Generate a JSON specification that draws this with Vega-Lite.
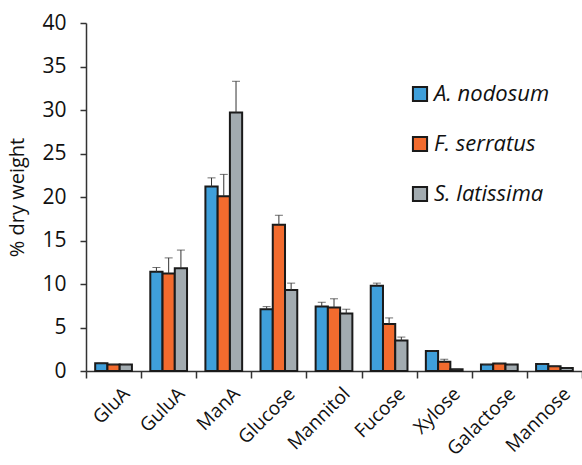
{
  "$schema": "https://vega.github.io/schema/vega-lite/v6.json",
  "width": 496,
  "height": 348,
  "autosize": {"type": "none"},
  "padding": {"left": 86, "top": 23, "right": 0, "bottom": 94},
  "background": "white",
  "config": {
    "view": {"stroke": null},
    "font": "Open Sans",
    "axis": {"labelFont": "Open Sans", "titleFont": "Open Sans", "domainColor": "#333", "tickColor": "#333", "labelColor": "#111", "titleColor": "#111", "grid": false, "domainWidth": 1.5, "tickWidth": 1.5}
  },
  "data": {"values": [
    {"sugar": "GluA", "species": "A. nodosum", "value": 0.9, "hi": 0.9},
    {"sugar": "GluA", "species": "F. serratus", "value": 0.75, "hi": 0.75},
    {"sugar": "GluA", "species": "S. latissima", "value": 0.75, "hi": 0.75},
    {"sugar": "GuluA", "species": "A. nodosum", "value": 11.4, "hi": 11.9},
    {"sugar": "GuluA", "species": "F. serratus", "value": 11.2, "hi": 13.0},
    {"sugar": "GuluA", "species": "S. latissima", "value": 11.8, "hi": 13.9},
    {"sugar": "ManA", "species": "A. nodosum", "value": 21.2, "hi": 22.2},
    {"sugar": "ManA", "species": "F. serratus", "value": 20.1, "hi": 22.6},
    {"sugar": "ManA", "species": "S. latissima", "value": 29.7, "hi": 33.3},
    {"sugar": "Glucose", "species": "A. nodosum", "value": 7.1, "hi": 7.4},
    {"sugar": "Glucose", "species": "F. serratus", "value": 16.8, "hi": 17.9},
    {"sugar": "Glucose", "species": "S. latissima", "value": 9.3, "hi": 10.1},
    {"sugar": "Mannitol", "species": "A. nodosum", "value": 7.4, "hi": 7.9},
    {"sugar": "Mannitol", "species": "F. serratus", "value": 7.3, "hi": 8.3},
    {"sugar": "Mannitol", "species": "S. latissima", "value": 6.6, "hi": 7.1},
    {"sugar": "Fucose", "species": "A. nodosum", "value": 9.8, "hi": 10.1},
    {"sugar": "Fucose", "species": "F. serratus", "value": 5.4, "hi": 6.1},
    {"sugar": "Fucose", "species": "S. latissima", "value": 3.5, "hi": 3.9},
    {"sugar": "Xylose", "species": "A. nodosum", "value": 2.3, "hi": 2.3},
    {"sugar": "Xylose", "species": "F. serratus", "value": 1.05, "hi": 1.35},
    {"sugar": "Xylose", "species": "S. latissima", "value": 0.2, "hi": 0.2},
    {"sugar": "Galactose", "species": "A. nodosum", "value": 0.75, "hi": 0.75},
    {"sugar": "Galactose", "species": "F. serratus", "value": 0.85, "hi": 0.85},
    {"sugar": "Galactose", "species": "S. latissima", "value": 0.75, "hi": 0.75},
    {"sugar": "Mannose", "species": "A. nodosum", "value": 0.8, "hi": 0.8},
    {"sugar": "Mannose", "species": "F. serratus", "value": 0.55, "hi": 0.55},
    {"sugar": "Mannose", "species": "S. latissima", "value": 0.35, "hi": 0.35}
  ]},
  "encoding": {
    "x": {
      "field": "sugar", "type": "nominal", "sort": null,
      "scale": {"paddingInner": 0, "paddingOuter": 0},
      "axis": {"title": null, "labelAngle": -45, "labelFontSize": 19, "tickBand": "extent", "tickSize": 7, "labelPadding": 6, "labelOffset": 6}
    },
    "xOffset": {"field": "species", "type": "nominal", "sort": null, "scale": {"paddingInner": 0, "paddingOuter": 0.75}}
  },
  "layer": [
    {
      "mark": {"type": "bar", "stroke": "#1a1a1a", "strokeWidth": 2},
      "encoding": {
        "y": {"field": "value", "type": "quantitative",
          "scale": {"domain": [0, 40], "nice": false},
          "axis": {"title": "% dry weight", "titleFontSize": 20, "titleFontWeight": "normal", "labelFontSize": 21, "values": [0,5,10,15,20,25,30,35,40], "tickSize": 6, "labelPadding": 14, "titlePadding": 14}},
        "color": {"field": "species", "type": "nominal", "sort": null,
          "scale": {"domain": ["A. nodosum", "F. serratus", "S. latissima"], "range": ["#3f9fda", "#f26b2e", "#a2abb0"]},
          "legend": {"title": null, "orient": "none", "legendX": 323, "legendY": 60, "labelFontSize": 22, "labelFontStyle": "italic", "labelFont": "Open Sans", "labelColor": "#111", "symbolType": "square", "symbolSize": 200, "symbolStrokeColor": "#1a1a1a", "symbolStrokeWidth": 2, "rowPadding": 26, "padding": 0, "labelOffset": 3}
        }
      }
    },
    {
      "mark": {"type": "rule", "color": "#333", "strokeWidth": 1},
      "encoding": {
        "y": {"field": "value", "type": "quantitative"},
        "y2": {"field": "hi"}
      }
    },
    {
      "mark": {"type": "tick", "color": "#333", "thickness": 1, "size": 8},
      "encoding": {
        "y": {"field": "hi", "type": "quantitative"}
      }
    }
  ]
}
